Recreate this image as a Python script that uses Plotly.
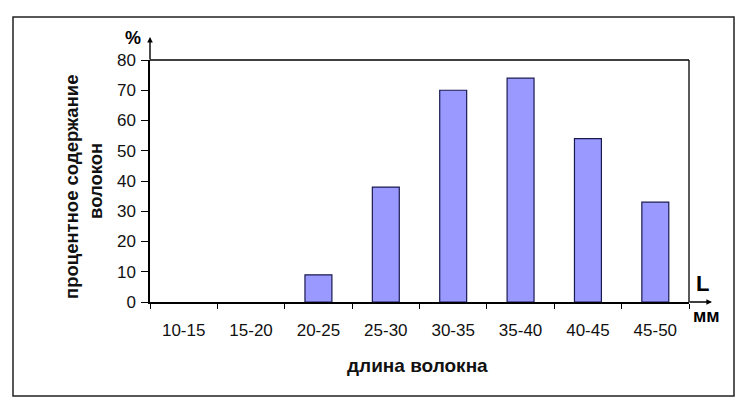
import plotly.graph_objects as go

categories = ["10-15", "15-20", "20-25", "25-30", "30-35", "35-40", "40-45", "45-50"]
values = [0, 0, 9, 38, 70, 74, 54, 33]
y_ticks = [0, 10, 20, 30, 40, 50, 60, 70, 80]

FONT = "Liberation Sans, Arial, sans-serif"

# the page body adds an 8px margin; work in page coordinates and shift
OFF = 8
W, H = 744 - OFF, 413 - OFF
PX0, PX1, PY0, PY1 = 150, 689, 60, 302  # plot area in page pixels
L = PX0 - OFF
T = PY0 - OFF
pw = PX1 - PX0
ph = PY1 - PY0
R = W - L - pw
B = H - T - ph


def px(xp):
    return (xp - PX0) / pw


def py(yp):
    return (PY1 - yp) / ph


fig = go.Figure()
fig.add_trace(go.Bar(
    x=categories, y=values,
    marker=dict(color="#9999FF",
                line=dict(color="#1a1a50", width=[0 if v == 0 else 1.2 for v in values])),
    width=0.4,
))

fig.update_layout(
    width=W, height=H,
    margin=dict(l=L, r=R, t=T, b=B),
    paper_bgcolor="white", plot_bgcolor="white",
    showlegend=False,
    font=dict(family=FONT, size=17, color="#111"),
    xaxis=dict(
        type="category", range=[-0.5, 7.5],
        showline=True, linecolor="black", linewidth=1.5,
        ticks="outside", tickson="boundaries", ticklen=5, tickcolor="black",
        showgrid=False, ticklabelstandoff=12,
        tickfont=dict(size=17, color="#111"),
    ),
    yaxis=dict(
        range=[0, 80], tickvals=y_ticks,
        showline=True, linecolor="black", linewidth=1.5,
        ticks="outside", ticklen=7, tickcolor="black",
        showgrid=False, zeroline=False, ticklabelstandoff=2,
        tickfont=dict(size=17, color="#111"),
    ),
)

# Plot frame top and right lines
fig.add_shape(type="line", xref="paper", yref="paper", x0=0, x1=1, y0=1, y1=1,
              line=dict(color="black", width=1.3))
fig.add_shape(type="line", xref="paper", yref="paper", x0=1, x1=1, y0=0, y1=1,
              line=dict(color="black", width=1.3))
# Outer border
fig.add_shape(type="rect", xref="paper", yref="paper",
              x0=px(13), x1=px(734), y0=py(396), y1=py(17),
              line=dict(color="#222", width=1.5))

# Axis arrows
fig.add_annotation(xref="paper", yref="paper", x=0, y=py(37),
                   ax=0, ay=24, text="",
                   showarrow=True, arrowhead=2, arrowsize=0.8, arrowwidth=1.4, arrowcolor="black")
fig.add_annotation(xref="paper", yref="paper", x=px(712), y=0,
                   ax=-24, ay=0, text="",
                   showarrow=True, arrowhead=2, arrowsize=0.8, arrowwidth=1.4, arrowcolor="black")


def label(xp, yp, text, size, angle=0, color="black"):
    fig.add_annotation(xref="paper", yref="paper", x=px(xp), y=py(yp),
                       xanchor="center", yanchor="middle", text=text, textangle=angle,
                       showarrow=False, font=dict(size=size, color=color))


# Axis symbol labels
label(133, 38, "<b>%</b>", 18)
label(702, 283, "<b>L</b>", 22)
label(706, 316, "<b>мм</b>", 18)

# Axis titles
label(71, 187, "<b>процентное содержание</b>", 18.5, -90, "#111")
label(95, 181, "<b>волокон</b>", 18.5, -90, "#111")
label(417, 365, "<b>длина волокна</b>", 19, 0, "#111")

fig.write_html("out.html")
